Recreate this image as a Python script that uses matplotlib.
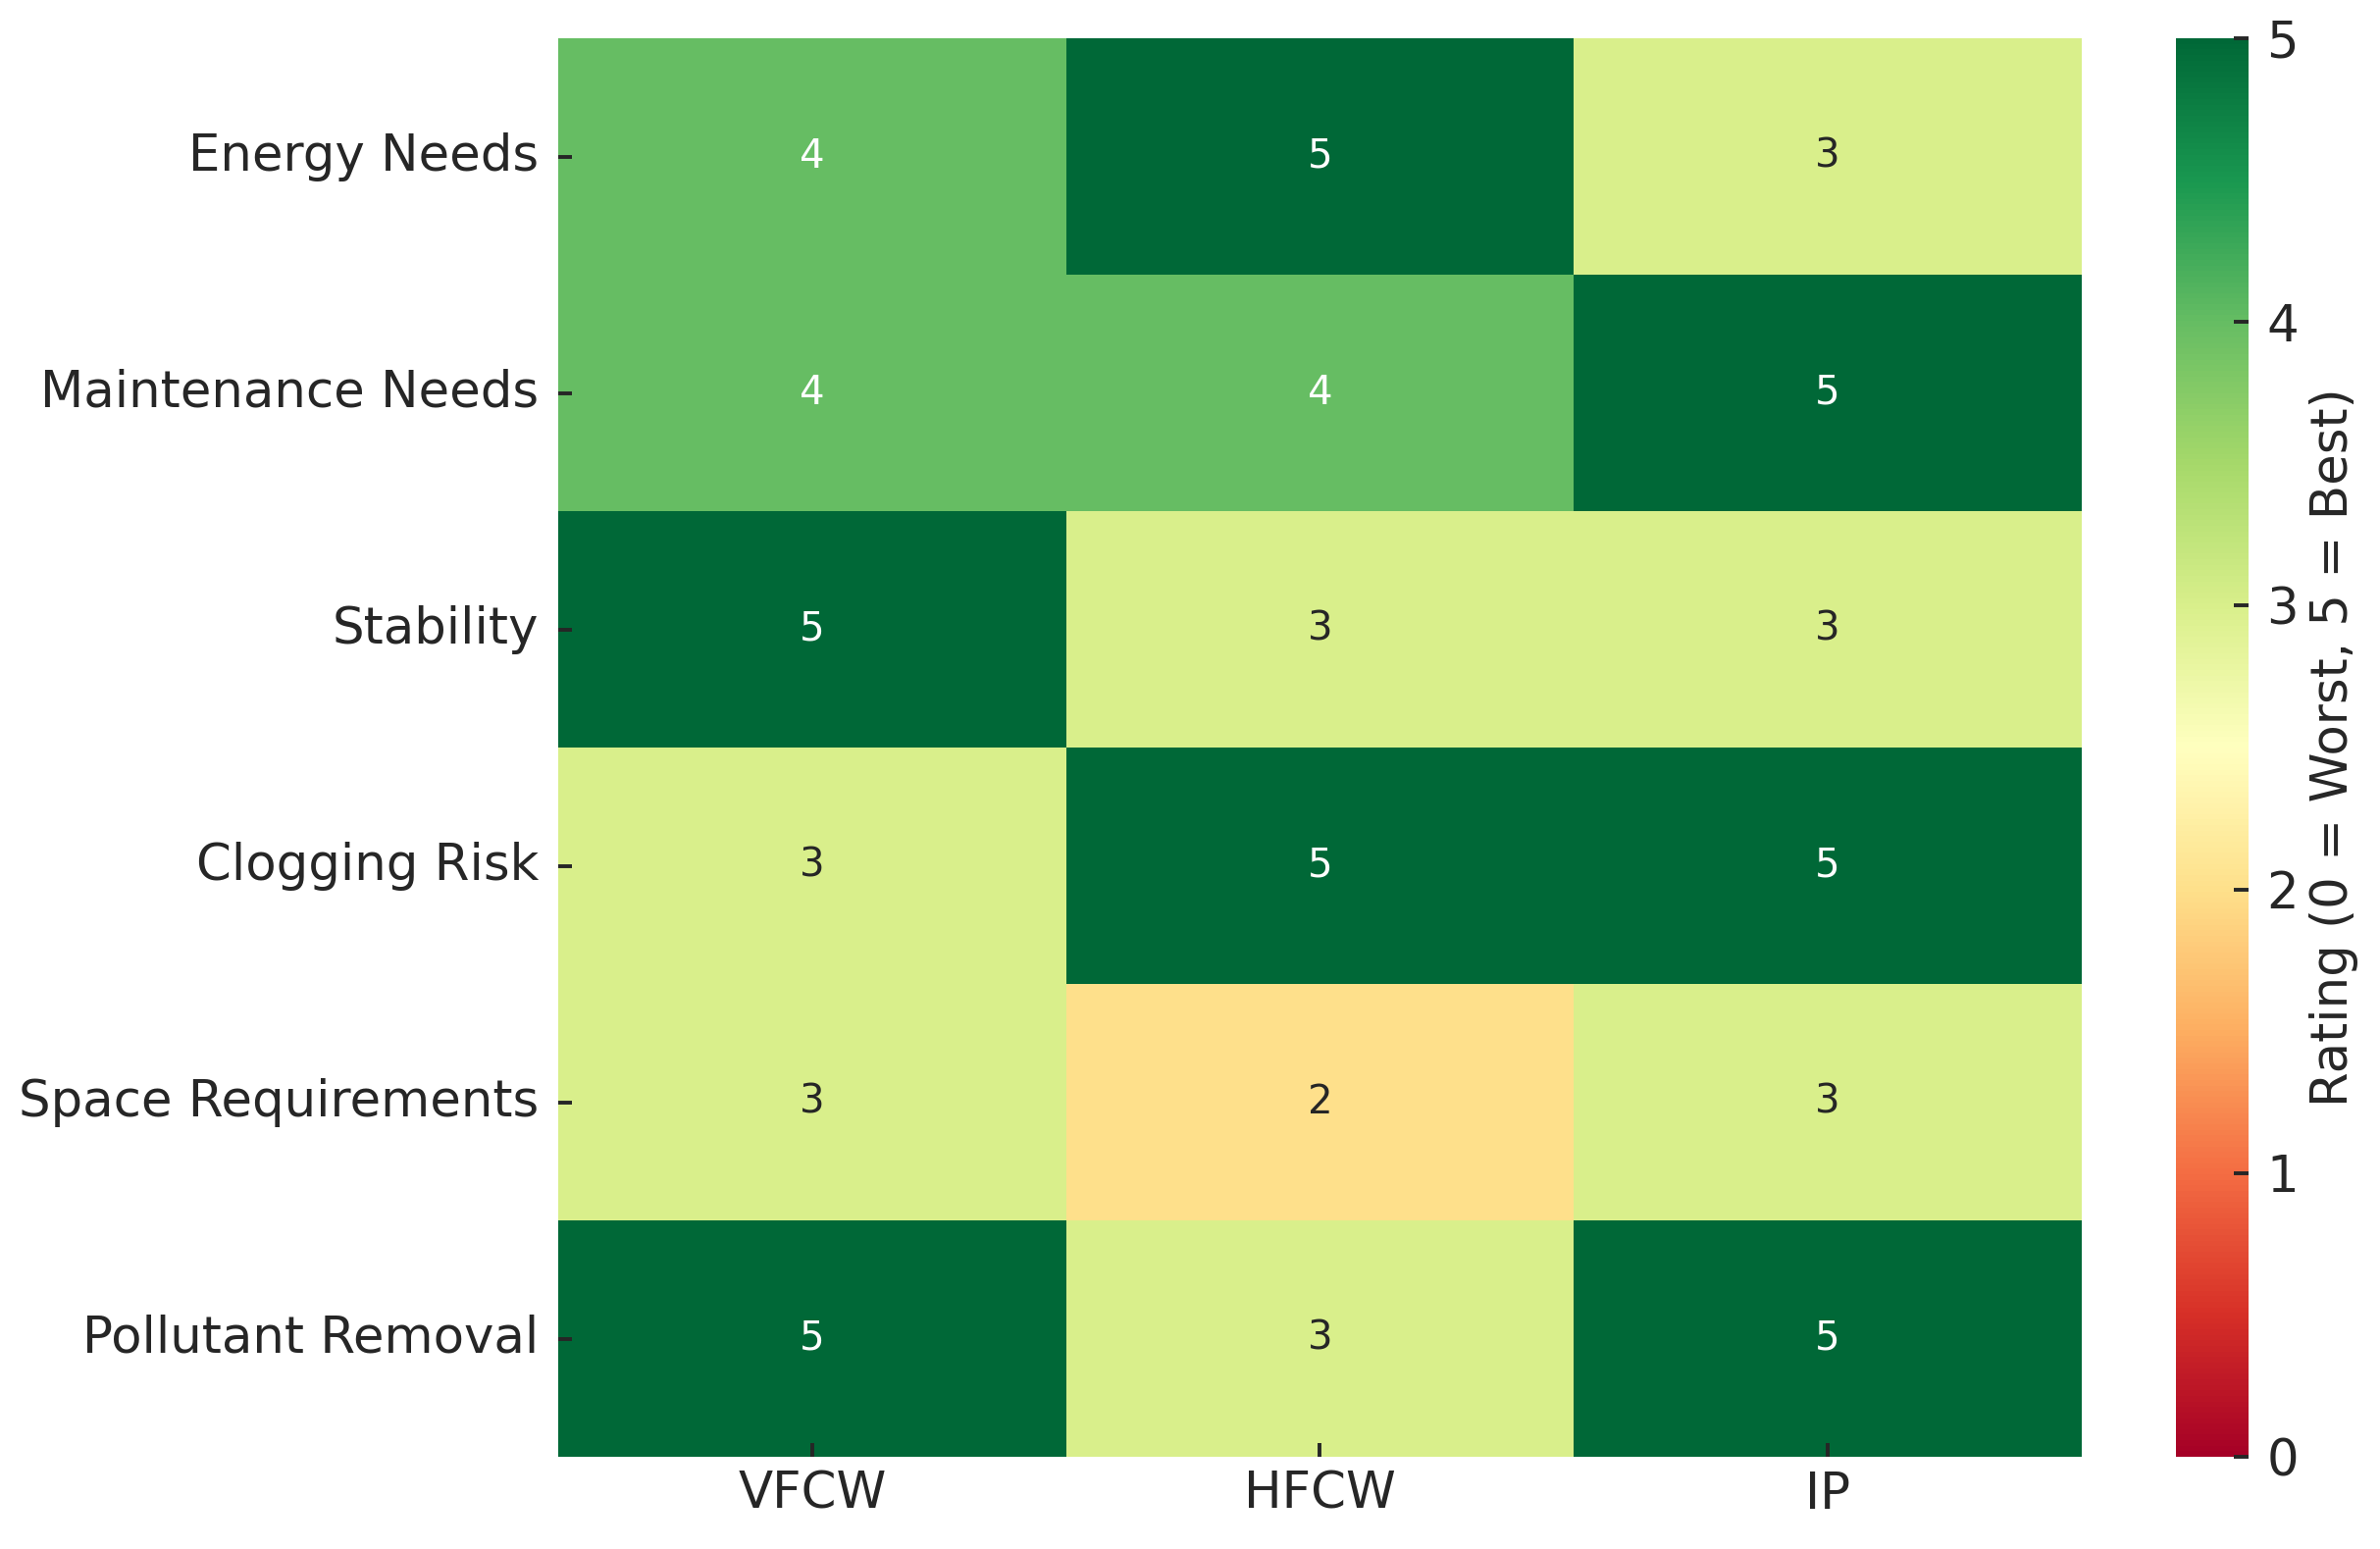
import matplotlib
matplotlib.use("Agg")
import matplotlib.pyplot as plt
import seaborn as sns
import numpy as np
import pandas as pd

criteria = ["Energy Needs", "Maintenance Needs", "Stability", "Clogging Risk",
            "Space Requirements", "Pollutant Removal"]
systems = ["VFCW", "HFCW", "IP"]
vfcw = [4, 4, 5, 3, 3, 5]
hfcw = [5, 4, 3, 5, 2, 3]
ip = [3, 5, 3, 5, 3, 5]

df = pd.DataFrame({"VFCW": vfcw, "HFCW": hfcw, "IP": ip}, index=criteria)

plt.rcParams['font.family'] = ['DejaVu Sans']
for k in ['text.color', 'axes.labelcolor', 'xtick.color', 'ytick.color']:
    plt.rcParams[k] = '#262626'

fig = plt.figure(figsize=(12.13, 7.895), dpi=200)
ax = fig.add_axes([0.2345, 0.0595, 0.6402, 0.9158])
cax = fig.add_axes([0.9143, 0.0595, 0.0305, 0.9158])
sns.heatmap(df, annot=True, fmt="d", cmap="RdYlGn", vmin=0, vmax=5, ax=ax, cbar_ax=cax,
            annot_kws={"size": 14.5})
ax.tick_params(axis='y', labelsize=18.5, length=5, width=1.4, direction='in', pad=7)
ax.tick_params(axis='x', labelsize=18.5, length=5, width=1.4, direction='in', pad=5)
ax.set_yticklabels(criteria, rotation=0)
ax.set_xticklabels(systems, rotation=0)
cax.tick_params(labelsize=18.5, length=5.5, width=1.4, direction='in', pad=6.5)
cax.set_ylabel("Rating (0 = Worst, 5 = Best)", fontsize=18.5)
fig.savefig("out.png", dpi=200)
